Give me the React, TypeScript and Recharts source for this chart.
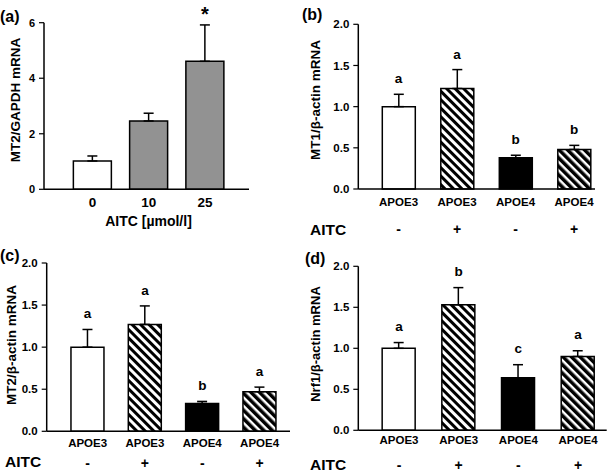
import React from 'react';
import { ComposedChart, Bar, Line, XAxis, YAxis, ErrorBar, Cell, LabelList } from 'recharts';

const FONT = '"Liberation Sans", Arial, Helvetica, sans-serif';

// (a) MT2 vs AITC dose
const doseLabels = ['0', '10', '25'];
const doseMean = [1.02, 2.46, 4.61];
const doseErrTop = [1.2, 2.74, 5.92];
const doseSig = ['', '', '*'];

// (b)-(d) genotype x AITC treatment
const genotypes = ['APOE3', 'APOE3', 'APOE4', 'APOE4'];
const aitc = ['-', '+', '-', '+'];

const mt1Mean = [1.0, 1.22, 0.38, 0.48];
const mt1ErrTop = [1.15, 1.45, 0.41, 0.53];
const mt1Sig = ['a', 'a', 'b', 'b'];

const mt2Mean = [1.0, 1.27, 0.33, 0.47];
const mt2ErrTop = [1.21, 1.49, 0.355, 0.525];
const mt2Sig = ['a', 'a', 'b', 'a'];

const nrf1Mean = [1.0, 1.53, 0.64, 0.9];
const nrf1ErrTop = [1.07, 1.74, 0.8, 0.97];
const nrf1Sig = ['a', 'b', 'c', 'a'];

const doseTicks = [0, 2, 4, 6];
const ratioTicks = [0, 0.5, 1.0, 1.5, 2.0];

const makeRows = (labels: string[], mean: number[], errTop: number[], sig: string[]) =>
  labels.map((label, i) => ({
    x: i,
    label,
    mean: mean[i],
    err: [0, errTop[i] - mean[i]],
    top: errTop[i],
    sig: sig[i],
  }));

const bold = { fontFamily: FONT, fontWeight: 'bold' as const, fill: '#000' };

function HatchDefs({ id }: { id: string }) {
  return (
    <defs>
      <pattern id={`${id}-APOE3`} patternUnits="userSpaceOnUse" width="6" height="6" patternTransform="rotate(-45)">
        <rect width="6" height="6" fill="#fff" />
        <rect width="3" height="6" fill="#000" />
      </pattern>
      <pattern id={`${id}-APOE4`} patternUnits="userSpaceOnUse" width="6" height="6" patternTransform="rotate(-45)">
        <rect width="6" height="6" fill="#fff" />
        <rect width="3.5" height="6" fill="#000" />
      </pattern>
    </defs>
  );
}

interface PanelProps {
  id: string;
  left: number;
  top: number;
  width: number;
  height: number;
  margin: { top: number; right: number; bottom: number; left: number };
  xDomain: [number, number];
  barSize: number;
  yMax: number;
  yTicks: number[];
  yDecimals: number;
  yFont: number;
  rows: ReturnType<typeof makeRows>;
  fills: string[];
  tick: (p: any) => React.ReactElement;
  sigFont: number;
  sigOffset: number;
}

function Panel(p: PanelProps) {
  return (
    <div style={{ position: 'absolute', left: p.left, top: p.top }}>
      <ComposedChart width={p.width} height={p.height} data={p.rows} margin={p.margin}>
        <HatchDefs id={p.id} />
        <XAxis
          type="number"
          dataKey="x"
          domain={p.xDomain}
          ticks={p.rows.map((r) => r.x)}
          interval={0}
          allowDataOverflow
          height={40}
          tickLine={false}
          tickSize={0}
          tickMargin={0}
          axisLine={{ stroke: '#000', strokeWidth: 1.5 }}
          tick={p.tick}
        />
        <YAxis
          domain={[0, p.yMax]}
          ticks={p.yTicks}
          width={30}
          tickSize={5}
          tickMargin={4}
          tickFormatter={(v: number) => v.toFixed(p.yDecimals)}
          axisLine={{ stroke: '#000', strokeWidth: 1.5 }}
          tickLine={{ stroke: '#000', strokeWidth: 1.2 }}
          tick={{ ...bold, fontSize: p.yFont }}
        />
        <Bar dataKey="mean" barSize={p.barSize} stroke="#000" strokeWidth={1.5} isAnimationActive={false}>
          {p.rows.map((r, i) => (
            <Cell key={i} fill={p.fills[i]} />
          ))}
          <ErrorBar dataKey="err" width={5} stroke="#000" strokeWidth={1.5} />
        </Bar>
        <Line dataKey="top" stroke="none" dot={false} activeDot={false} isAnimationActive={false}>
          <LabelList dataKey="sig" position="top" offset={p.sigOffset} {...bold} fontSize={p.sigFont} />
        </Line>
      </ComposedChart>
    </div>
  );
}

const doseTick = (props: any) => {
  const { x, y, payload } = props;
  return (
    <text x={x} y={y + 17.5} textAnchor="middle" {...bold} fontSize={13.5}>
      {doseLabels[payload.value]}
    </text>
  );
};

const groupTick = (dyLabel: number, dySign: number) => (props: any) => {
  const { x, y, payload } = props;
  return (
    <g>
      <text x={x} y={y + dyLabel} textAnchor="middle" {...bold} fontSize={11.5}>
        {genotypes[payload.value]}
      </text>
      <text x={x} y={y + dySign} textAnchor="middle" {...bold} fontSize={14}>
        {aitc[payload.value]}
      </text>
    </g>
  );
};

const groupFills = (id: string) =>
  genotypes.map((g, i) => (aitc[i] === '+' ? `url(#${id}-${g})` : g === 'APOE3' ? '#fff' : '#000'));

export default function App() {
  const doseRows = makeRows(doseLabels, doseMean, doseErrTop, doseSig);
  const mt1Rows = makeRows(genotypes, mt1Mean, mt1ErrTop, mt1Sig);
  const mt2Rows = makeRows(genotypes, mt2Mean, mt2ErrTop, mt2Sig);
  const nrf1Rows = makeRows(genotypes, nrf1Mean, nrf1ErrTop, nrf1Sig);

  return (
    <div style={{ position: 'absolute', left: 0, top: 0, width: 610, height: 475, background: '#fff', overflow: 'hidden' }}>
      <Panel
        id="pa"
        left={0}
        top={0}
        width={305}
        height={237}
        margin={{ top: 22.7, right: 56, bottom: 7.7, left: 14 }}
        xDomain={[-0.862, 2.782]}
        barSize={38}
        yMax={6}
        yTicks={doseTicks}
        yDecimals={0}
        yFont={11}
        rows={doseRows}
        fills={['#fff', '#929292', '#929292']}
        tick={doseTick}
        sigFont={20}
        sigOffset={4}
      />
      <Panel
        id="pb"
        left={305}
        top={0}
        width={305}
        height={237}
        margin={{ top: 24.3, right: 15, bottom: 8, left: 23.3 }}
        xDomain={[-0.688, 3.358]}
        barSize={33}
        yMax={2}
        yTicks={ratioTicks}
        yDecimals={1}
        yFont={11.5}
        rows={mt1Rows}
        fills={groupFills('pb')}
        tick={groupTick(17, 45)}
        sigFont={13.5}
        sigOffset={11}
      />
      <Panel
        id="pc"
        left={0}
        top={237}
        width={305}
        height={238}
        margin={{ top: 26, right: 15, bottom: 3.7, left: 16.7 }}
        xDomain={[-0.714, 3.53]}
        barSize={33}
        yMax={2}
        yTicks={ratioTicks}
        yDecimals={1}
        yFont={11.5}
        rows={mt2Rows}
        fills={groupFills('pc')}
        tick={groupTick(16, 37)}
        sigFont={13.5}
        sigOffset={11}
      />
      <Panel
        id="pd"
        left={305}
        top={237}
        width={305}
        height={238}
        margin={{ top: 29.3, right: 3.3, bottom: 4.7, left: 23.3 }}
        xDomain={[-0.682, 3.48]}
        barSize={33}
        yMax={2}
        yTicks={ratioTicks}
        yDecimals={1}
        yFont={11.5}
        rows={nrf1Rows}
        fills={groupFills('pd')}
        tick={groupTick(14, 40)}
        sigFont={13.5}
        sigOffset={12}
      />

      {/* panel letters, axis titles, treatment row captions */}
      <svg width={610} height={475} style={{ position: 'absolute', left: 0, top: 0, pointerEvents: 'none' }}>
        <g {...bold}>
          <text x={0} y={22} fontSize={16}>(a)</text>
          <text x={302} y={20} fontSize={16}>(b)</text>
          <text x={0} y={261} fontSize={16}>(c)</text>
          <text x={305} y={264} fontSize={16}>(d)</text>

          <text transform="translate(20,100) rotate(-90)" textAnchor="middle" fontSize={13.5}>MT2/GAPDH mRNA</text>
          <text transform="translate(320,100) rotate(-90)" textAnchor="middle" fontSize={13.5}>MT1/β-actin mRNA</text>
          <text transform="translate(16,345) rotate(-90)" textAnchor="middle" fontSize={13.5}>MT2/β-actin mRNA</text>
          <text transform="translate(320,344) rotate(-90)" textAnchor="middle" fontSize={13}>Nrf1/β-actin mRNA</text>

          <text x={148.5} y={226} textAnchor="middle" fontSize={14}>AITC [µmol/l]</text>
          <text x={310} y={235} fontSize={15.5}>AITC</text>
          <text x={5} y={467} fontSize={15.5}>AITC</text>
          <text x={310} y={470} fontSize={15.5}>AITC</text>
        </g>
      </svg>
    </div>
  );
}
